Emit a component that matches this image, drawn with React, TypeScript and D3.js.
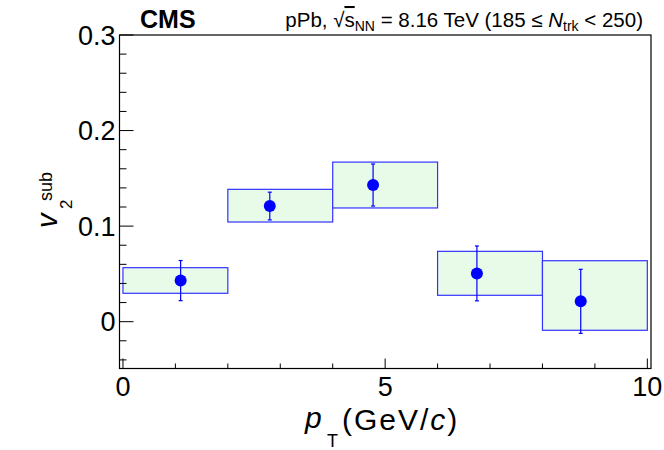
import * as d3 from 'd3';

// pT bins (GeV/c)
const binLow = [0, 2, 4, 6, 8];
const binHigh = [2, 4, 6, 8, 10];
// mean pT of each bin
const ptMean = [1.1, 2.8, 4.77, 6.75, 8.73];
// v2 sub values with stat errors
const v2Sub = [0.043, 0.121, 0.143, 0.0505, 0.0213];
const statErr = [0.021, 0.0145, 0.022, 0.0287, 0.0335];
// systematic box edges
const sysLow = [0.0297, 0.1043, 0.119, 0.0276, -0.009];
const sysHigh = [0.0565, 0.1385, 0.167, 0.0736, 0.0638];

const yMajor = [0, 0.1, 0.2, 0.3];
const xMajor = [0, 5, 10];

const W = 664;
const H = 450;
const FONT = '"Liberation Sans", Arial, Helvetica, sans-serif';

export default function App() {
  const x = d3.scaleLinear().domain([-0.066, 10.07]).range([119.5, 651]);
  const y = d3.scaleLinear().domain([-0.049, 0.3]).range([368.5, 35]);

  const yMinor = d3.range(-0.04, 0.3, 0.02).filter(v => !yMajor.some(m => Math.abs(m - v) < 1e-6));
  const xMinor = d3.range(1, 10, 1).filter(v => !xMajor.includes(v));

  const [x0, x1] = x.range();
  const [y0, y1] = y.range();

  return (
    <svg width={W} height={H} style={{ position: 'absolute', left: 0, top: 0, background: '#fff' }} fontFamily={FONT}>
      <rect width={W} height={H} fill="#fff" />

      {/* systematic boxes */}
      {binLow.map((b, i) => (
        <rect
          key={'sys' + i}
          x={x(b)}
          y={y(sysHigh[i])}
          width={x(binHigh[i]) - x(b)}
          height={y(sysLow[i]) - y(sysHigh[i])}
          fill="#e8fbe8"
          stroke="#3333ff"
          strokeWidth={1.2}
        />
      ))}

      {/* stat errors + points */}
      {v2Sub.map((v, i) => {
        const cx = x(ptMean[i]);
        return (
          <g key={'pt' + i} stroke="#0000ff" strokeWidth={1.2}>
            <line x1={cx} x2={cx} y1={y(v + statErr[i])} y2={y(v - statErr[i])} />
            <line x1={cx - 2} x2={cx + 2} y1={y(v + statErr[i])} y2={y(v + statErr[i])} />
            <line x1={cx - 2} x2={cx + 2} y1={y(v - statErr[i])} y2={y(v - statErr[i])} />
            <circle cx={cx} cy={y(v)} r={6} fill="#0000ff" stroke="none" />
          </g>
        );
      })}

      {/* frame */}
      <rect x={x0} y={y1} width={x1 - x0} height={y0 - y1} fill="none" stroke="#000" strokeWidth={1.2} />

      {/* y ticks */}
      {yMajor.map(v => (
        <g key={'ym' + v}>
          <line x1={x0} x2={x0 + 14} y1={y(v)} y2={y(v)} stroke="#000" />
          <text x={x0 - 4} y={y(v)} dy="0.36em" textAnchor="end" fontSize={27}>{v === 0 ? '0' : v.toFixed(1)}</text>
        </g>
      ))}
      {yMinor.map(v => (
        <line key={'yn' + v} x1={x0} x2={x0 + 7} y1={y(v)} y2={y(v)} stroke="#000" />
      ))}

      {/* x ticks */}
      {xMajor.map(v => (
        <g key={'xm' + v}>
          <line x1={x(v)} x2={x(v)} y1={y0} y2={y0 - 10} stroke="#000" />
          <text x={x(v)} y={y0 + 27} textAnchor="middle" fontSize={27}>{v}</text>
        </g>
      ))}
      {xMinor.map(v => (
        <line key={'xn' + v} x1={x(v)} x2={x(v)} y1={y0} y2={y0 - 5} stroke="#000" />
      ))}

      {/* x title */}
      <text x={305} y={428} fontSize={30} fontStyle="italic">p</text>
      <text x={327} y={447} fontSize={18}>T</text>
      <text x={342} y={430} fontSize={30} letterSpacing={2}>
        <tspan>(GeV/</tspan>
        <tspan fontStyle="italic">c</tspan>
        <tspan>)</tspan>
      </text>

      {/* y title */}
      <text transform="translate(57,228) rotate(-90)" fontSize={29} fontStyle="italic">v</text>
      <text transform="translate(72,209) rotate(-90)" fontSize={17}>2</text>
      <text transform="translate(52,201) rotate(-90)" fontSize={18}>sub</text>

      {/* header */}
      <text x={140} y={28} fontSize={25} fontWeight="bold">CMS</text>
      <text x={643} y={27} fontSize={20.5} textAnchor="end">
        <tspan>pPb, </tspan>
        <tspan>√</tspan>
        <tspan textDecoration="overline">s</tspan>
        <tspan fontSize={14} dy={4}>NN</tspan>
        <tspan dy={-4}> = 8.16 TeV (185 ≤ </tspan>
        <tspan fontStyle="italic">N</tspan>
        <tspan fontSize={14} dy={4}>trk</tspan>
        <tspan dy={-4}> &lt; 250)</tspan>
      </text>
    </svg>
  );
}
